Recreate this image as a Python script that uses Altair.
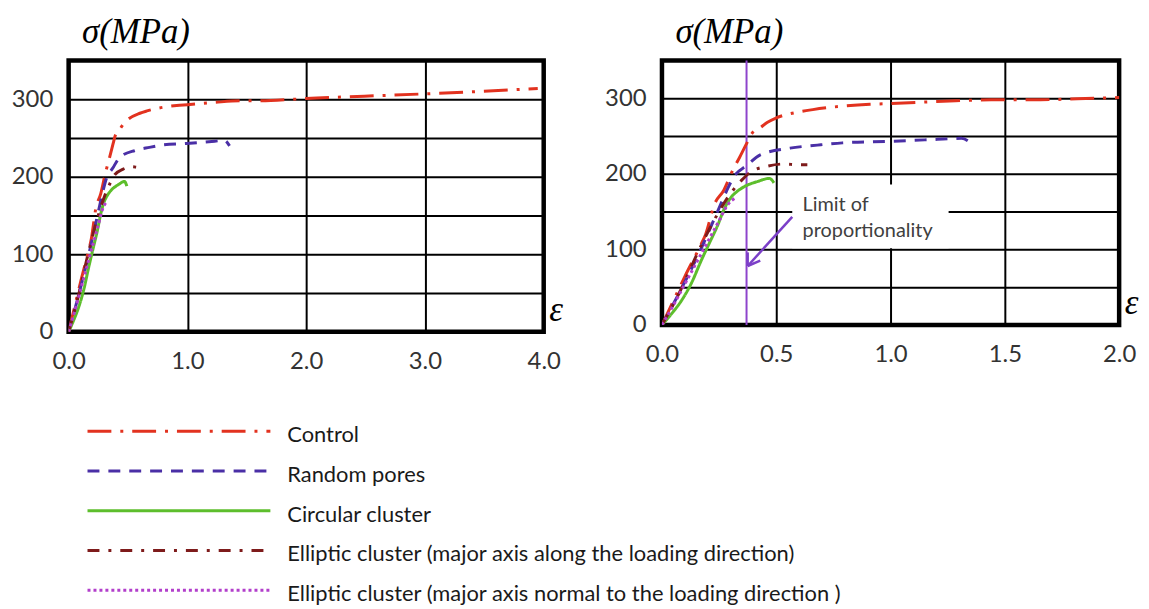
import altair as alt
import pandas as pd

# ---------------- data ----------------
series_names = [
    "Control",
    "Random pores",
    "Circular cluster",
    "Elliptic cluster (major axis along the loading direction)",
    "Elliptic cluster (major axis normal to the loading direction )",
]
series_colors = ["#E2321F", "#4A2FA6", "#5DBE2C", "#7E1B1B", "#B23FCB"]
series_dashes = [[24, 9, 3, 9], [12, 9], [1, 0], [12, 9, 3, 9], [3, 3]]

control_eps = [0, 0.05, 0.10, 0.17, 0.19, 0.23, 0.27, 0.31, 0.34, 0.375, 0.39, 0.43, 0.46,
               0.50, 0.60, 0.66, 0.91, 1.00, 1.23, 1.44, 1.62, 1.89, 2.00, 2.49, 3.00, 3.45, 3.95]
control_sig = [0, 32, 64, 106, 119, 160, 178, 205, 222, 243, 252, 261, 268,
               274, 282, 285, 292, 293, 296, 298, 298, 300, 301, 304, 307, 310, 314]

random_eps = [0, 0.08, 0.17, 0.24, 0.29, 0.31, 0.375, 0.43, 0.56, 0.68, 0.79, 0.99, 1.23, 1.31, 1.355]
random_sig = [0, 45, 100, 148, 182, 194, 212, 225, 234, 238, 241, 243, 246, 247, 240]

circular_eps = [0, 0.04, 0.085, 0.13, 0.17, 0.21, 0.244, 0.27, 0.30, 0.33, 0.36, 0.42, 0.47, 0.49]
circular_sig = [0, 14, 32, 56, 84, 110, 132, 152, 168, 177, 183, 190, 194, 188]

along_eps = [0, 0.08, 0.16, 0.24, 0.30, 0.35, 0.39, 0.46, 0.53, 0.60, 0.636]
along_sig = [0, 45, 98, 145, 174, 192, 203, 210, 213, 212, 212]

normal_eps = [0, 0.05, 0.10, 0.15, 0.20, 0.25, 0.29, 0.32]
normal_sig = [0, 26, 54, 82, 110, 138, 160, 168]

# annotation (right panel)
limit_eps = [0.37]
box_x, box_x2, box_y, box_y2 = [0.57], [1.254], [101.5], [186]
note_text = ["Limit of", "proportionality"]
note_x = [0.615, 0.615]
note_y = [159, 124]
arrow_x = [0.57, 0.375, 0.375]
arrow_y = [143, 78, 78]
arrow_x2 = [0.375, 0.375, 0.43]
arrow_y2 = [78, 96, 85]

y_grid_values = [0, 50, 100, 150, 200, 250, 300]
left_x_values = [0, 1, 2, 3, 4]
right_x_values = [0, 0.5, 1, 1.5, 2]

# ---------------- tables ----------------
rows = []
for name, xs, ys in zip(series_names,
                        [control_eps, random_eps, circular_eps, along_eps, normal_eps],
                        [control_sig, random_sig, circular_sig, along_sig, normal_sig]):
    for i, (a, b) in enumerate(zip(xs, ys)):
        rows.append({"series": name, "eps": a, "sigma": b, "idx": i})
curves = pd.DataFrame(rows)

color_enc = alt.Color("series:N", scale=alt.Scale(domain=series_names, range=series_colors), legend=None)
dash_enc = alt.StrokeDash("series:N", scale=alt.Scale(domain=series_names, range=series_dashes), legend=None)

LABEL_FONT = "Lato"
TITLE_FONT = "Liberation Serif"


def panel(xmax, xvals, w, h):
    x_enc = alt.X(
        "eps:Q",
        scale=alt.Scale(domain=[0, xmax], nice=False, zero=True),
        axis=alt.Axis(
            values=xvals, format=".1f", title="ε", grid=True, labelPadding=18,
            titleX=w + 12, titleY=-22, titleAlign="center", titleBaseline="middle",
            titleAngle=0,
        ),
    )
    y_enc = alt.Y(
        "sigma:Q",
        scale=alt.Scale(domain=[0, 350], nice=False),
        axis=alt.Axis(
            values=y_grid_values, labelPadding=16,
            labelExpr="datum.value % 100 == 0 ? datum.label : ''",
            title="σ(MPa)", titleAngle=0, titleX=13, titleY=-18,
            titleAlign="left", titleBaseline="alphabetic",
        ),
    )
    lines = alt.Chart(curves).mark_line(strokeWidth=3, clip=True, interpolate="monotone").encode(
        x=x_enc, y=y_enc, color=color_enc, strokeDash=dash_enc, order="idx:Q"
    )
    return lines


left = panel(4.0, left_x_values, 478, 273).properties(width=478, height=273)

right_lines = panel(2.0, right_x_values, 460, 266)

box_df = pd.DataFrame({"x": box_x, "x2": box_x2, "y": box_y, "y2": box_y2})
box = alt.Chart(box_df).mark_rect(fill="white", strokeWidth=0).encode(
    x="x:Q", x2="x2:Q", y="y:Q", y2="y2:Q"
)
limit_df = pd.DataFrame({"eps": limit_eps})
limit_line = alt.Chart(limit_df).mark_rule(color="#8E44CC", strokeWidth=2).encode(x="eps:Q")
note_df = pd.DataFrame({"text": note_text, "x": note_x, "y": note_y})
note = alt.Chart(note_df).mark_text(
    align="left", baseline="middle", font=LABEL_FONT, fontSize=20, color="#404040"
).encode(x="x:Q", y="y:Q", text="text:N")
arrow_df = pd.DataFrame({"x": arrow_x, "y": arrow_y, "x2": arrow_x2, "y2": arrow_y2})
arrow = alt.Chart(arrow_df).mark_rule(color="#7B3FC8", strokeWidth=2.5).encode(
    x="x:Q", y="y:Q", x2="x2:Q", y2="y2:Q"
)

right = alt.layer(box, limit_line, right_lines, note, arrow).properties(width=460, height=266)

top = alt.hconcat(left, right, spacing=36)

leg_df = pd.DataFrame({"series": series_names})
leg_y = alt.Y("series:N",
              scale=alt.Scale(type="point", domain=series_names, range=[16, 176], padding=0),
              axis=None)
leg_rules = alt.Chart(leg_df).mark_rule(strokeWidth=3).encode(
    x=alt.value(19), x2=alt.value(203), y=leg_y,
    color=alt.Color("series:N", scale=alt.Scale(domain=series_names, range=series_colors), legend=None),
    strokeDash=alt.StrokeDash("series:N", scale=alt.Scale(domain=series_names, range=series_dashes), legend=None),
)
leg_text = alt.Chart(leg_df).mark_text(
    align="left", baseline="middle", font=LABEL_FONT, fontSize=22, color="#1a1a1a", dy=4
).encode(x=alt.value(220), y=leg_y, text="series:N")
legend = alt.layer(leg_rules, leg_text).properties(
    width=760, height=180, view=alt.ViewBackground(stroke="transparent")
)

chart = alt.vconcat(top, legend, spacing=36).properties(
    padding={"left": 0, "top": 2, "right": 0, "bottom": 0}
).configure_view(
    stroke="black", strokeWidth=4.5
).configure_axis(
    domain=False, ticks=False, labelFont=LABEL_FONT, labelFontSize=24, labelColor="#333333",
    labelFlush=False, gridColor="black", gridWidth=2, gridOpacity=1,
    titleFont=TITLE_FONT, titleFontStyle="italic", titleFontSize=35, titleFontWeight="normal",
    titleColor="black",
)

chart.save("out.html", embed_options={"renderer": "svg", "actions": False})
